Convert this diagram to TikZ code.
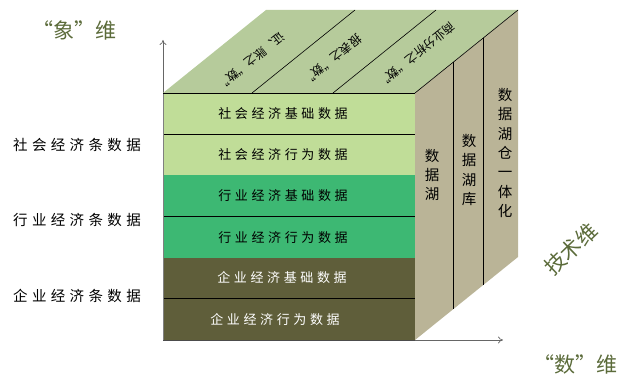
\documentclass[tikz,border=0pt]{standalone}
\usepackage{fontspec}
\setmainfont{Noto Sans CJK SC}
\newfontfamily\rowfont[LetterSpace=28]{Noto Sans CJK SC}
\newfontfamily\lblfont[LetterSpace=30]{Noto Sans CJK SC}
\usetikzlibrary{calc,arrows.meta}
\definecolor{rowA}{HTML}{C0DD98}
\definecolor{rowB}{HTML}{3DB873}
\definecolor{rowC}{HTML}{5F5E3A}
\definecolor{topF}{HTML}{B6CB9B}
\definecolor{sideF}{HTML}{BAB497}
\definecolor{dimC}{HTML}{5B6B3A}
\tikzset{
  axis/.style={draw=black!60, line width=0.7pt, -{To[length=5pt,width=7pt]}},
  rowtxt/.style={inner sep=0pt, font=\rowfont\fontsize{13}{15}\selectfont},
  lbltxt/.style={inner sep=0pt, font=\lblfont\fontsize{14.5}{16}\selectfont},
  toptxt/.style={inner sep=0pt, rotate=218.6, font=\fontsize{12}{13}\selectfont},
  vtext/.style={inner sep=0pt, align=center, font=\fontsize{14.5}{19.3}\selectfont},
  dimtxt/.style={inner sep=0pt, text=dimC, font=\fontsize{21}{24}\selectfont},
  edge/.style={draw=black, line width=0.6pt}
}
\begin{document}
\begin{tikzpicture}[x=1pt,y=-1pt]
\useasboundingbox (0,0) rectangle (619,382);
% axes
\coordinate (O) at (163,340);
\coordinate (Ytip) at (163,40);
\coordinate (Xtip) at (503,340);
\draw[axis] (O) -- (Ytip);
\draw[axis] (O) -- (Xtip);
% cube corners
\coordinate (FTL) at (163,93);
\coordinate (FTR) at (415,93);
\coordinate (FBR) at (415,340);
\coordinate (FBL) at (163,340);
\coordinate (BTL) at (266,10);
\coordinate (BTR) at (518,10);
\coordinate (BBR) at (518,257);
% front rows
\fill[rowA] (163,93) rectangle (415,175.3);
\fill[rowB] (163,175.3) rectangle (415,257.7);
\fill[rowC] (163,257.7) rectangle (415,340);
\draw[edge] (163,134.2) -- (415,134.2);
\draw[edge] (163,216.5) -- (415,216.5);
\draw[edge] (163,298.8) -- (415,298.8);
\draw[draw=black!70, line width=0.6pt] (FBL) -- (FBR);
\draw[draw=black!50, line width=0.5pt] (FTL) -- (FBL);
% top face
\fill[topF] (FTL) -- (BTL) -- (BTR) -- (FTR) -- cycle;
\coordinate (T1) at (252,93);
\coordinate (T2) at (333,93);
\draw[edge] (T1) -- ++(103,-83);
\draw[edge] (T2) -- ++(103,-83);
\draw[edge] (FTL) -- (FTR);
% side face
\fill[sideF] (FTR) -- (BTR) -- (BBR) -- (FBR) -- cycle;
\draw[edge] (FTR) -- (BTR);
\draw[edge] ($(FTR)!0.369!(BTR)$) -- ($(FBR)!0.369!(BBR)$);
\draw[edge] ($(FTR)!0.66!(BTR)$) -- ($(FBR)!0.66!(BBR)$);
% row texts
\node[rowtxt] (r1) at (283,114) {社会经济基础数据};
\node[rowtxt] (r2) at (283,155) {社会经济行为数据};
\node[rowtxt] (r3) at (283,196) {行业经济基础数据};
\node[rowtxt] (r4) at (283,238) {行业经济行为数据};
\node[rowtxt, text=white] (r5) at (282,278) {企业经济基础数据};
\node[rowtxt, text=white] (r6) at (275,320) {企业经济行为数据};
% left labels
\node[lbltxt] (l1) at (77,145) {社会经济条数据};
\node[lbltxt] (l2) at (77,220) {行业经济条数据};
\node[lbltxt] (l3) at (77,296) {企业经济条数据};
% top texts
\node[toptxt] (t1) at (251,61) {证、账之“数”};
\node[toptxt] (t2) at (332,60) {报表之“数”};
\node[toptxt] (t3) at (416,55) {商业分析之“数”};
% side texts
\node[vtext] (s1) at (432,175) {数\\据\\湖};
\node[vtext] (s2) at (469,170) {数\\据\\湖\\库};
\node[vtext] (s3) at (505,153) {数\\据\\湖\\仓\\一\\体\\化};
% dimension labels
\node[dimtxt] (d1) at (74,30) {“象”维};
\node[dimtxt, rotate=44] (d2) at (571,249) {技术维};
\node[dimtxt] (d3) at (575,364) {“数”维};
\end{tikzpicture}
\end{document}
